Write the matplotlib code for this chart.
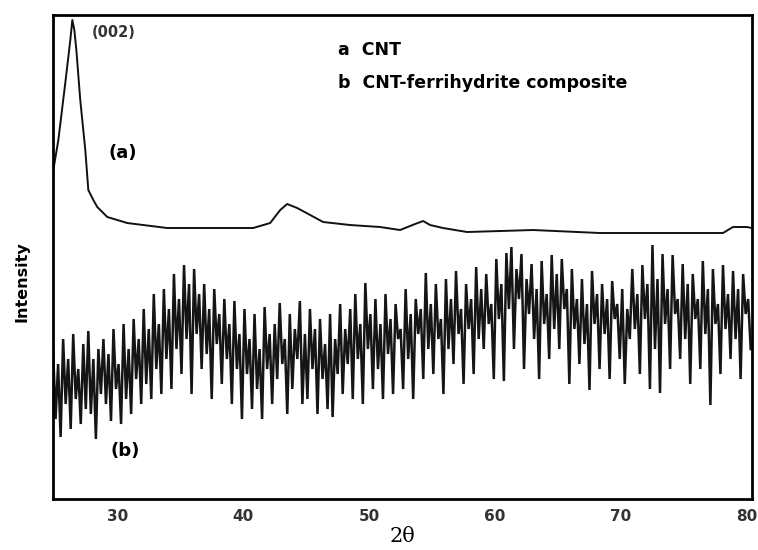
import numpy as np
import matplotlib
matplotlib.use("Agg")
import matplotlib.pyplot as plt

# curve (a): CNT (2theta, intensity in arbitrary units)
theta_a = [24.92, 25.32, 25.87, 26.27, 26.43, 26.59, 26.75, 27.06, 27.46, 27.70,
           28.10, 28.41, 29.21, 30.79, 33.97, 37.94, 40.79, 42.14, 42.94, 43.49,
           44.29, 45.32, 46.35, 48.49, 50.87, 52.46, 53.65, 54.29, 54.84, 55.87,
           57.78, 63.02, 68.33, 73.65, 78.10, 78.89, 80.0, 80.4]
intensity_a = [329, 359, 416, 459, 479, 469, 449, 399, 349, 309,
               299, 292, 282, 276, 271, 271, 271, 276, 289, 295,
               291, 284, 277, 274, 272, 269, 275, 278, 274, 271,
               267, 269, 266, 266, 266, 272, 272, 271]

# curve (b): CNT-ferrihydrite composite, one value every 0.2 deg from 24.9 to 80.3
intensity_b = [
    150, 80, 135, 62, 160, 95, 140, 70, 165, 100,
    130, 75, 155, 90, 168, 85, 140, 60, 150, 105,
    160, 95, 145, 78, 170, 110, 135, 75, 175, 100,
    150, 85, 180, 120, 160, 95, 190, 115, 170, 100,
    205, 130, 175, 105, 210, 140, 190, 110, 225, 150,
    200, 125, 234, 160, 215, 105, 230, 165, 205, 130,
    215, 145, 190, 100, 210, 155, 185, 115, 200, 140,
    175, 95, 198, 130, 165, 80, 190, 125, 160, 90,
    185, 110, 150, 80, 192, 130, 165, 95, 175, 120,
    196, 135, 160, 85, 185, 110, 170, 140, 198, 95,
    165, 100, 190, 130, 170, 85, 180, 120, 155, 90,
    185, 82, 160, 125, 195, 105, 170, 135, 190, 100,
    205, 140, 175, 95, 216, 150, 185, 110, 200, 130,
    175, 100, 205, 145, 180, 105, 195, 160, 170, 110,
    210, 140, 185, 100, 200, 165, 190, 120, 226, 150,
    195, 125, 215, 160, 180, 105, 220, 150, 200, 135,
    228, 165, 190, 115, 215, 170, 200, 125, 232, 160,
    210, 150, 225, 175, 195, 120, 240, 180, 215, 118,
    246, 190, 252, 150, 230, 200, 245, 130, 220, 185,
    235, 160, 210, 120, 238, 175, 205, 140, 244, 170,
    225, 150, 240, 190, 210, 115, 230, 170, 200, 135,
    220, 155, 195, 109, 228, 175, 205, 130, 215, 165,
    200, 120, 218, 180, 195, 140, 210, 115, 190, 160,
    230, 170, 205, 125, 234, 180, 215, 110, 254, 150,
    220, 106, 245, 175, 210, 130, 244, 185, 200, 140,
    235, 160, 215, 115, 225, 180, 200, 130, 238, 165,
    210, 94, 230, 175, 195, 125, 234, 170, 205, 140,
    228, 160, 210, 120, 225, 185, 200, 150,
]
theta_b = np.linspace(24.9, 80.3, len(intensity_b))

xticks = [30, 40, 50, 60, 70, 80]

fig = plt.figure(figsize=(7.58, 5.5), dpi=100)
ax = fig.add_axes([0.070, 0.0927, 0.922, 0.88])

ax.plot(theta_b, intensity_b, color="#151515", lw=1.8, solid_joinstyle="miter")
ax.plot(theta_a, intensity_a, color="#111111", lw=1.4)

ax.set_xlim(24.9, 80.4)
ax.set_ylim(0, 484)
ax.set_xticks(xticks)
ax.set_xticklabels([str(t) for t in xticks], fontsize=11, fontweight="bold", color="#333333")
ax.tick_params(axis="x", length=0, pad=7)
ax.set_yticks([])
for s in ax.spines.values():
    s.set_linewidth(2)
    s.set_color("black")

ax.set_xlabel("2θ", fontsize=15, family="DejaVu Serif", labelpad=2)
ax.set_ylabel("Intensity", fontsize=11.5, fontweight="bold")
ax.yaxis.set_label_coords(-0.033, 0.45)

ax.text(0.056, 0.963, "(002)", transform=ax.transAxes, fontsize=10.5, fontweight="bold",
        color="#333333", va="center")
ax.text(0.08, 0.715, "(a)", transform=ax.transAxes, fontsize=13, fontweight="bold", va="center")
ax.text(0.082, 0.10, "(b)", transform=ax.transAxes, fontsize=13, fontweight="bold", va="center")
ax.text(0.408, 0.928, "a  CNT", transform=ax.transAxes, fontsize=12.5, fontweight="bold",
        va="center")
ax.text(0.408, 0.86, "b  CNT-ferrihydrite composite", transform=ax.transAxes, fontsize=12.5,
        fontweight="bold", va="center")

fig.savefig("out.png", dpi=100)
